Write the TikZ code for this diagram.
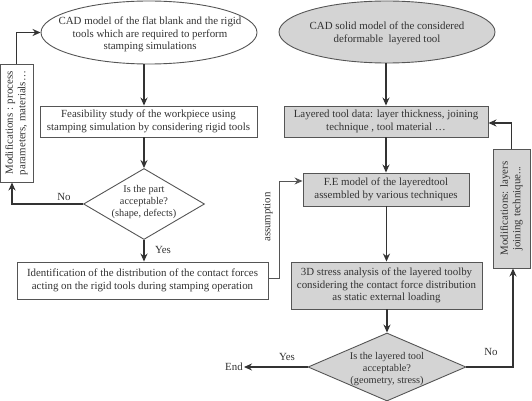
\documentclass[tikz,border=0pt]{standalone}
\usepackage{fontspec}
\setmainfont{Liberation Serif}
\usetikzlibrary{shapes.geometric,arrows.meta}
\definecolor{ink}{HTML}{333333}
\definecolor{edge}{HTML}{555555}
\definecolor{fillg}{HTML}{D4D4D4}
\begin{document}
\begin{tikzpicture}[x=1pt,y=-1pt,
  every node/.style={text=ink,font=\fontsize{10.9}{12.6}\selectfont},
  whitebox/.style={draw=edge,line width=0.9pt,fill=white,rectangle,inner sep=0,align=center},
  graybox/.style={draw=edge,line width=0.9pt,fill=fillg,rectangle,inner sep=0,align=center},
  oval/.style={draw=edge,line width=0.9pt,ellipse,inner sep=0},
  dia/.style={draw=edge,line width=0.9pt,diamond,inner sep=0},
  flow/.style={draw=ink,line width=1.5pt,-{Stealth[length=8pt,width=7pt]}},
  lab/.style={inner sep=1pt},
  diatext/.style={inner sep=1pt,align=center,font=\fontsize{10.3}{11.8}\selectfont}]
\useasboundingbox (0,0) rectangle (532,401);

% left column
\node[oval,minimum width=216,minimum height=63] (e1) at (149,32.5) {};
\node[lab,align=center] (e1t) at (150,34.5)
  {CAD model of the flat blank and the rigid\\tools which are required to perform\\stamping simulations};
\node[whitebox,minimum width=217,minimum height=31] (f1) at (148.5,121.5)
  {Feasibility study of the workpiece using\\stamping simulation by considering rigid tools};
\node[dia,minimum width=121,minimum height=71] (d1) at (144,204) {};
\node[diatext] (d1t) at (144,202) {Is the part\\acceptable?\\(shape, defects)};
\node[whitebox,minimum width=251,minimum height=37] (id) at (142.5,280.5)
  {Identification of the distribution of the contact forces\\acting on the rigid tools during stamping operation};
\node[whitebox,minimum width=33,minimum height=118] (m1) at (16.5,123) {};
\node[lab,rotate=90,align=center] (m1t) at (16.5,123) {Modifications : process\\parameters, materials\dots};

% right column
\node[oval,fill=fillg,minimum width=216,minimum height=62] (e2) at (387,32) {};
\node[lab,align=center] (e2t) at (387,33.5)
  {CAD solid model of the considered\\deformable\ \ layered tool};
\node[graybox,minimum width=204,minimum height=31] (ld) at (386,121.5)
  {Layered tool data: layer thickness, joining\\technique , tool material \dots};
\node[graybox,minimum width=166,minimum height=33] (fe) at (386,189.5)
  {F.E model of the layeredtool\\assembled by various techniques};
\node[graybox,minimum width=191,minimum height=47] (sa) at (386.5,285.5)
  {3D stress analysis of the layered toolby\\considering the contact force distribution\\as static external loading};
\node[dia,fill=fillg,minimum width=158,minimum height=68] (d2) at (387,367) {};
\node[diatext] (d2t) at (387,369) {Is the layered tool\\acceptable?\\(geometry, stress)};
\node[graybox,minimum width=37,minimum height=119] (m2) at (511.5,208.5) {};
\node[lab,rotate=90,align=center] (m2t) at (511.5,208.5) {Modifications: layers\\joining technique...};
\node[lab] (end) at (234,367) {End};

% coordinates
\coordinate (c1) at (16.5,32.5);
\coordinate (c2) at (279,278);
\coordinate (c3) at (279,181);
\coordinate (c4) at (511.5,123);
\coordinate (c5) at (12,204);
\coordinate (c6) at (513,367);

% connectors
\draw[flow] (e1.south -| 144,0) -- (144,0 |- f1.north);
\draw[flow] (f1.south -| d1.north) -- (d1.north);
\draw[flow] (d1.south) -- (d1.south |- id.north);
\draw[flow] (d1.west) -- (c5) -- (c5 |- m1.south);
\draw[flow] (m1.north) -- (c1) -- (e1.west);

\draw[flow] (e2.south -| ld.north) -- (ld.north);
\draw[flow] (ld.south) -- (ld.south |- fe.north);
\draw[flow] (fe.south -| sa.north) -- (sa.north);
\draw[flow] (sa.south -| d2.north) -- (d2.north);
\draw[flow] (d2.west) -- (end.east);
\draw[flow] (d2.east) -- (c6) -- (c6 |- m2.south);
\draw[flow] (m2.north) -- (c4) -- (ld.east |- c4);
\draw[flow,draw=edge,line width=1pt] (id.east |- c2) -- (c2) -- (c3) -- (fe.west |- c3);

% labels
\node[lab] (no1) at (64,197) {No};
\node[lab] (yes1) at (163,250) {Yes};
\node[lab,rotate=90] (asm) at (268,217) {assumption};
\node[lab] (yes2) at (287,357) {Yes};
\node[lab] (no2) at (491,352) {No};
\end{tikzpicture}
\end{document}
